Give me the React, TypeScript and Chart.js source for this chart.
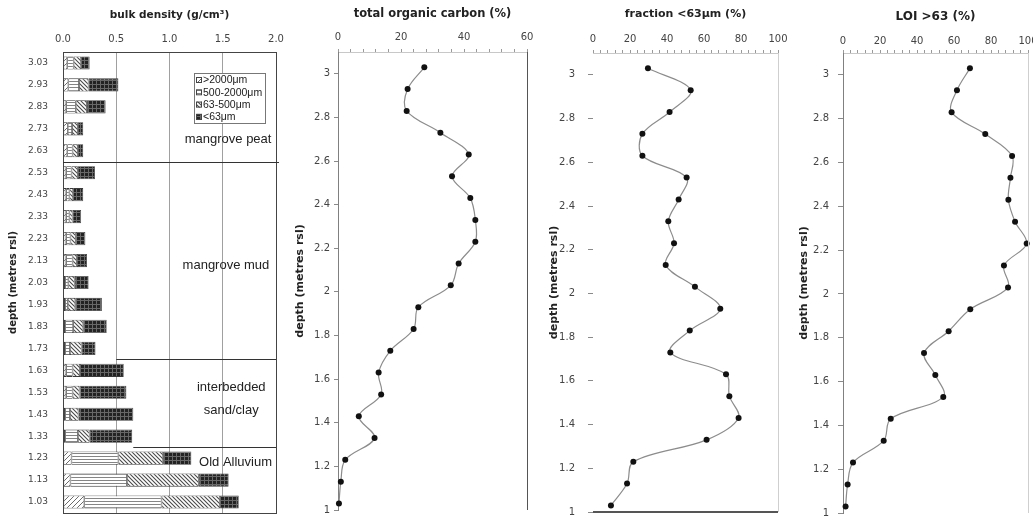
import React, { useEffect, useRef } from 'react';
import { Chart, registerables } from 'chart.js';

Chart.register(...registerables);

const FONT = "'DejaVu Sans', sans-serif";
const LABEL_FONT = "'Liberation Sans', sans-serif";
Chart.defaults.font.family = FONT;
Chart.defaults.color = '#444';

const H = 517;

// ---- data ----
const depthLabels = ['3.03', '2.93', '2.83', '2.73', '2.63', '2.53', '2.43', '2.33', '2.23', '2.13', '2.03', '1.93', '1.83', '1.73', '1.63', '1.53', '1.43', '1.33', '1.23', '1.13', '1.03'];
const sampleDepths = [3.03, 2.93, 2.83, 2.73, 2.63, 2.53, 2.43, 2.33, 2.23, 2.13, 2.03, 1.93, 1.83, 1.73, 1.63, 1.53, 1.43, 1.33, 1.23, 1.13, 1.03];
const sizeClasses = ['>2000μm', '500-2000μm', '63-500μm', '<63μm'];
const bdOver2000 = [0.04, 0.05, 0.03, 0.045, 0.04, 0.03, 0.03, 0.03, 0.03, 0.03, 0.02, 0.02, 0.02, 0.02, 0.03, 0.03, 0.02, 0.02, 0.08, 0.07, 0.2];
const bd500to2000 = [0.06, 0.1, 0.09, 0.04, 0.05, 0.05, 0.03, 0.03, 0.04, 0.06, 0.03, 0.025, 0.075, 0.045, 0.06, 0.06, 0.045, 0.12, 0.44, 0.53, 0.725];
const bd63to500 = [0.07, 0.09, 0.105, 0.055, 0.05, 0.06, 0.035, 0.03, 0.05, 0.04, 0.06, 0.07, 0.095, 0.11, 0.07, 0.065, 0.08, 0.11, 0.42, 0.675, 0.55];
const bdUnder63 = [0.08, 0.28, 0.175, 0.05, 0.05, 0.16, 0.095, 0.08, 0.09, 0.095, 0.13, 0.25, 0.22, 0.13, 0.41, 0.44, 0.515, 0.4, 0.265, 0.28, 0.175];
const tocPct = [27.4, 22.1, 21.8, 32.5, 41.5, 36.2, 42.0, 43.6, 43.6, 38.3, 35.8, 25.5, 24.0, 16.6, 12.9, 13.7, 6.6, 11.6, 2.3, 0.9, 0.3];
const finesPct = [29.7, 52.8, 41.4, 26.7, 26.7, 50.6, 46.3, 40.7, 43.8, 39.3, 55.1, 68.8, 52.3, 41.8, 71.9, 73.7, 78.7, 61.4, 21.8, 18.4, 9.7];
const loiPct = [68.6, 61.6, 58.7, 76.9, 91.4, 90.5, 89.4, 93.0, 99.3, 87.0, 89.2, 68.8, 57.1, 43.8, 49.9, 54.2, 25.8, 22.0, 5.4, 2.5, 1.4];
const zoneNames = ['mangrove peat', 'mangrove mud', 'interbedded', 'sand/clay', 'Old Alluvium'];

// ---- patterns ----
function makePattern(kind: string): CanvasPattern | string {
  const c = document.createElement('canvas');
  const s = kind === 'fwd' ? 5 : kind === 'back' ? 4 : kind === 'grid' ? 4 : 3;
  c.width = s;
  c.height = s;
  const g = c.getContext('2d')!;
  if (kind === 'grid') {
    g.fillStyle = '#232323';
    g.fillRect(0, 0, s, s);
    g.fillStyle = '#686868';
    g.fillRect(0, 0, s, 1);
    g.fillRect(0, 0, 1, s);
  } else {
    g.fillStyle = '#ffffff';
    g.fillRect(0, 0, s, s);
    if (kind === 'horiz') {
      g.fillStyle = '#858585';
      g.fillRect(0, 0, s, 1);
    } else {
      g.strokeStyle = kind === 'fwd' ? '#6c6c6c' : '#4a4a4a';
      g.lineWidth = kind === 'fwd' ? 1 : 1.1;
      g.beginPath();
      if (kind === 'fwd') {
        g.moveTo(0, s); g.lineTo(s, 0);
        g.moveTo(-1, 1); g.lineTo(1, -1);
        g.moveTo(s - 1, s + 1); g.lineTo(s + 1, s - 1);
      } else {
        g.moveTo(0, 0); g.lineTo(s, s);
        g.moveTo(-1, s - 1); g.lineTo(1, s + 1);
        g.moveTo(s - 1, -1); g.lineTo(s + 1, 1);
      }
      g.stroke();
    }
  }
  return g.createPattern(c, 'repeat') || '#999';
}

function fixAxisX(h: number) {
  return (s: any) => {
    s.height = h;
    s.paddingLeft = 0;
    s.paddingRight = 0;
  };
}
function fixAxisY(w: number) {
  return (s: any) => {
    s.width = w;
    s.paddingTop = 0;
    s.paddingBottom = 0;
  };
}

// ---- bulk density panel ----
function buildBulk() {
  const pats = ['fwd', 'horiz', 'back', 'grid'].map(makePattern);
  const series = [bdOver2000, bd500to2000, bd63to500, bdUnder63];

  const annotations = {
    id: 'bulkAnnotations',
    afterDatasetsDraw(chart: any) {
      const { ctx, chartArea: a } = chart;
      const xs = chart.scales.x;
      const ys = chart.scales.y;
      ctx.save();
      // frame
      ctx.strokeStyle = '#444';
      ctx.lineWidth = 1;
      ctx.strokeRect(a.left + 0.5, a.top + 0.5, a.right - a.left, a.bottom - a.top);
      // zone boundaries
      const zoneLine = (idx: number, fromVal: number, extra: number) => {
        const y = Math.round(ys.getPixelForValue(idx)) + 0.5;
        ctx.beginPath();
        ctx.moveTo(xs.getPixelForValue(fromVal), y);
        ctx.lineTo(a.right + extra, y);
        ctx.stroke();
      };
      ctx.strokeStyle = '#333';
      zoneLine(4.5, 0, 3);
      zoneLine(13.5, 0.5, 0);
      zoneLine(17.5, 0.66, 0);
      // zone labels
      ctx.fillStyle = '#222';
      ctx.font = `13px ${LABEL_FONT}`;
      ctx.textAlign = 'center';
      ctx.textBaseline = 'middle';
      const lab = (t: string, xv: number, idx: number) => ctx.fillText(t, xs.getPixelForValue(xv), ys.getPixelForValue(idx));
      lab(zoneNames[0], 1.55, 3.5);
      lab(zoneNames[1], 1.53, 9.2);
      lab(zoneNames[2], 1.58, 14.8);
      lab(zoneNames[3], 1.58, 15.85);
      lab(zoneNames[4], 1.62, 18.2);
      // legend box
      const bx = a.left + 131, by = a.top + 21, bw = 71, bh = 50;
      ctx.fillStyle = '#fff';
      ctx.fillRect(bx, by, bw, bh);
      ctx.strokeStyle = '#777';
      ctx.strokeRect(bx + 0.5, by + 0.5, bw, bh);
      ctx.font = `10.5px ${LABEL_FONT}`;
      ctx.textAlign = 'left';
      sizeClasses.forEach((t, i) => {
        const cy = by + 7 + i * 12.3;
        ctx.fillStyle = pats[i] as any;
        ctx.fillRect(bx + 2, cy - 3, 6, 6);
        ctx.strokeStyle = '#444';
        ctx.strokeRect(bx + 2.5, cy - 2.5, 5, 5);
        ctx.fillStyle = '#222';
        ctx.fillText(t, bx + 9, cy + 0.5);
      });
      ctx.restore();
    },
  };

  return {
    type: 'bar',
    data: {
      labels: depthLabels,
      datasets: series.map((d, i) => ({
        label: sizeClasses[i],
        data: d,
        backgroundColor: pats[i],
        borderColor: '#3a3a3a',
        borderWidth: 0.8,
        borderSkipped: false,
        categoryPercentage: 1,
        barPercentage: 0.6,
      })),
    },
    options: {
      indexAxis: 'y',
      responsive: false,
      animation: false,
      devicePixelRatio: 1,
      layout: { padding: { left: 0, top: 0, right: 9, bottom: 4 } },
      plugins: { legend: { display: false }, tooltip: { enabled: false } },
      scales: {
        x: {
          type: 'linear',
          position: 'top',
          stacked: true,
          min: 0,
          max: 2,
          ticks: { stepSize: 0.5, padding: 7, color: '#444', font: { size: 10 }, maxRotation: 0, callback: (v: any) => Number(v).toFixed(1) },
          grid: { color: '#a0a0a0', drawTicks: false },
          border: { display: true, color: '#444' },
          title: { display: true, text: 'bulk density (g/cm³)', color: '#222', font: { size: 10.5, weight: 'bold' }, padding: { top: 8.5, bottom: 0 } },
          afterFit: fixAxisX(52),
        },
        y: {
          type: 'category',
          stacked: true,
          ticks: { padding: 7, color: '#444', font: { size: 9 }, autoSkip: false },
          grid: { display: false },
          border: { display: true, color: '#444' },
          title: { display: true, text: 'depth (metres rsl)', color: '#222', font: { size: 10, weight: 'bold' }, padding: { top: 7, bottom: 0 } },
          afterFit: fixAxisY(63),
        },
      },
    },
    plugins: [annotations],
  };
}

// ---- profile panels ----
interface ProfileOpts {
  title: string;
  values: number[];
  xMax: number;
  titleSize: number;
  titlePad: number;
  xTickPad: number;
  axisH: number;
  rightPad: number;
  bottomPad: number;
  yTickLen: number;
  yTickPad: number;
  yTitlePad: number;
  leftLine: string | null;
  rightLine: string | null;
  bottomLine: string | null;
}

function buildProfile(o: ProfileOpts) {
  const frame = {
    id: 'frameLines',
    afterDatasetsDraw(chart: any) {
      const { ctx, chartArea: a } = chart;
      ctx.save();
      if (o.rightLine) {
        ctx.strokeStyle = o.rightLine;
        ctx.lineWidth = 1;
        ctx.beginPath();
        ctx.moveTo(Math.round(a.right) + 0.5, a.top);
        ctx.lineTo(Math.round(a.right) + 0.5, a.bottom);
        ctx.stroke();
      }
      if (o.bottomLine) {
        ctx.strokeStyle = o.bottomLine;
        ctx.lineWidth = 2;
        ctx.beginPath();
        ctx.moveTo(a.left, Math.round(a.bottom));
        ctx.lineTo(a.right, Math.round(a.bottom));
        ctx.stroke();
      }
      ctx.restore();
    },
  };

  return {
    type: 'scatter',
    data: {
      datasets: [
        {
          data: sampleDepths.map((d, i) => ({ x: o.values[i], y: d })),
          showLine: true,
          tension: 0.35,
          borderColor: '#8c8c8c',
          borderWidth: 1.2,
          pointRadius: 3,
          pointBackgroundColor: '#111',
          pointBorderColor: '#111',
          pointBorderWidth: 0,
          clip: false,
        },
      ],
    },
    options: {
      responsive: false,
      animation: false,
      devicePixelRatio: 1,
      layout: { padding: { left: 0, top: 0, right: o.rightPad, bottom: o.bottomPad } },
      plugins: { legend: { display: false }, tooltip: { enabled: false } },
      scales: {
        x: {
          type: 'linear',
          position: 'top',
          min: 0,
          max: o.xMax,
          ticks: {
            stepSize: 4,
            autoSkip: false,
            maxRotation: 0,
            padding: o.xTickPad,
            color: '#444',
            font: { size: 10 },
            callback: (v: any) => (Math.round(v) % 20 === 0 ? String(Math.round(v)) : ''),
          },
          grid: { drawOnChartArea: false, drawTicks: true, tickLength: 3, color: '#9a9a9a' },
          border: { display: true, color: '#c8c8c8' },
          title: { display: true, text: o.title, color: '#222', font: { size: o.titleSize, weight: 'bold' }, padding: { top: o.titlePad, bottom: 0 } },
          afterFit: fixAxisX(o.axisH),
        },
        y: {
          type: 'linear',
          min: 1,
          max: 3.1,
          ticks: {
            stepSize: 0.2,
            padding: o.yTickPad,
            color: '#444',
            font: { size: 10 },
            callback: (v: any) => String(Math.round(Number(v) * 10) / 10),
          },
          afterBuildTicks: (s: any) => {
            s.ticks = s.ticks.filter((t: any) => Math.abs(t.value * 5 - Math.round(t.value * 5)) < 1e-6);
          },
          grid: { drawOnChartArea: false, drawTicks: true, tickLength: o.yTickLen, color: '#8a8a8a' },
          border: { display: !!o.leftLine, color: o.leftLine || '#888' },
          title: { display: true, text: 'depth (metres rsl)', color: '#222', font: { size: 11, weight: 'bold' }, padding: { top: o.yTitlePad, bottom: 0 } },
          afterFit: fixAxisY(53),
        },
      },
    },
    plugins: [frame],
  };
}

function ChartBox({ left, width, build }: { left: number; width: number; build: () => any }) {
  const ref = useRef<HTMLCanvasElement>(null);
  useEffect(() => {
    if (!ref.current) return;
    const chart = new Chart(ref.current, build());
    return () => chart.destroy();
  }, []);
  return (
    <div style={{ position: 'absolute', left, top: 0, width, height: H }}>
      <canvas ref={ref} width={width} height={H} style={{ display: 'block', width, height: H }} />
    </div>
  );
}

export default function App() {
  return (
    <div style={{ position: 'absolute', left: 0, top: 0, width: 1033, height: H, background: '#fff', overflow: 'hidden' }}>
      <ChartBox left={0} width={285} build={buildBulk} />
      <ChartBox
        left={285}
        width={255}
        build={() =>
          buildProfile({
            title: 'total organic carbon (%)', values: tocPct, xMax: 60, titleSize: 11.5, titlePad: 7, xTickPad: 6, axisH: 52,
            rightPad: 13, bottomPad: 7, yTickLen: 4, yTickPad: 4, yTitlePad: 9, leftLine: '#808080', rightLine: '#555', bottomLine: null,
          })
        }
      />
      <ChartBox
        left={540}
        width={250}
        build={() =>
          buildProfile({
            title: 'fraction <63μm (%)', values: finesPct, xMax: 100, titleSize: 11, titlePad: 8, xTickPad: 5, axisH: 53,
            rightPad: 12, bottomPad: 5, yTickLen: 5, yTickPad: 13, yTitlePad: 8, leftLine: null, rightLine: '#cfcfcf', bottomLine: '#555',
          })
        }
      />
      <ChartBox
        left={790}
        width={243}
        build={() =>
          buildProfile({
            title: 'LOI >63 (%)', values: loiPct, xMax: 100, titleSize: 12, titlePad: 10, xTickPad: 3, axisH: 53,
            rightPad: 5, bottomPad: 4, yTickLen: 5, yTickPad: 9, yTitlePad: 8, leftLine: '#808080', rightLine: '#cfcfcf', bottomLine: null,
          })
        }
      />
    </div>
  );
}
